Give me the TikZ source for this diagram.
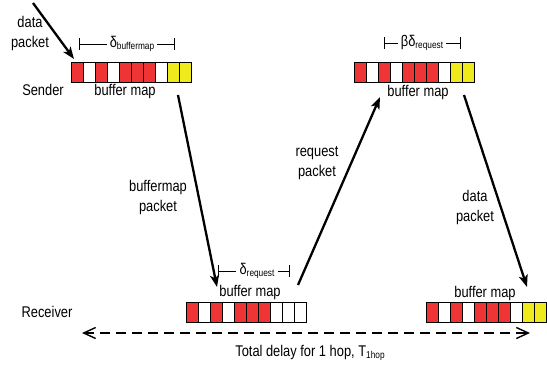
\documentclass[tikz,border=0pt]{standalone}
\usepackage{fontspec}
\setmainfont[FakeStretch=0.83]{Liberation Sans}
\usetikzlibrary{arrows.meta}
\definecolor{cellred}{HTML}{EE3434}
\definecolor{cellyel}{HTML}{EFEA1C}
% one buffer map: #1 name, #2 left x, #3 top y, #4 list of ten cell colours
\newcommand{\bufmap}[4]{%
  \foreach \c [count=\i from 0] in {#4}
    \node[cell, fill=\c] (#1\i) at (#2+12.05*\i, #3) {};}
\begin{document}
\begin{tikzpicture}[x=1pt,y=-1pt,
  cell/.style={draw=black, line width=0.7pt, minimum width=12.05pt,
    minimum height=20pt, inner sep=0pt, outer sep=0pt, anchor=north west},
  lbl/.style={font=\fontsize{15.5}{20}\selectfont, inner sep=0pt, align=center},
  sub/.style={font=\fontsize{15.5}{17}\selectfont, inner sep=3pt},
  packet/.style={line width=2.3pt, -{Stealth[length=12pt,width=9pt,inset=3pt]}},
  span/.style={line width=0.6pt},
  total/.style={line width=2.6pt, dash pattern=on 10pt off 6pt,
    {Straight Barb[length=12pt,width=11pt,line width=1.4pt]}-{Straight Barb[length=12pt,width=11pt,line width=1.4pt]}}
]
\useasboundingbox (0,0) rectangle (547,369);
\newcommand{\subtxt}[1]{\raisebox{-2.5pt}{\fontsize{10}{10}\selectfont #1}}

% buffer maps
\bufmap{s}{71}{62}{cellred,white,cellred,white,cellred,cellred,cellred,white,cellyel,cellyel}
\bufmap{t}{354}{62}{cellred,white,cellred,white,cellred,cellred,cellred,white,cellyel,cellyel}
\bufmap{r}{186}{302}{cellred,white,cellred,white,cellred,cellred,cellred,white,white,white}
\bufmap{q}{426}{302}{cellred,white,cellred,white,cellred,cellred,cellred,white,cellyel,cellyel}

% side labels
\node[lbl] (sender) at (43,90) {Sender};
\node[lbl] (receiver) at (47,312) {Receiver};

% buffer map captions
\node[lbl] (sbm) at (125,91) {buffer map};
\node[lbl] (tbm) at (418,92) {buffer map};
\node[lbl] (rbm) at (250,292) {buffer map};
\node[lbl] (qbm) at (485,293) {buffer map};

% interval markers
\node[sub] (dbm) at (132,44) {δ\subtxt{buffermap}};
\coordinate (dbmL) at (79,44); \coordinate (dbmR) at (174,44);
\draw[span] (dbmL) -- (dbm.west) (dbm.east) -- (dbmR);
\draw[span] ([yshift=-6pt]dbmL) -- ([yshift=6pt]dbmL);
\draw[span] ([yshift=-6pt]dbmR) -- ([yshift=6pt]dbmR);

\node[sub] (bdr) at (422,43) {βδ\subtxt{request}};
\coordinate (bdrL) at (384,43); \coordinate (bdrR) at (460,43);
\draw[span] (bdrL) -- (bdr.west) (bdr.east) -- (bdrR);
\draw[span] ([yshift=-6pt]bdrL) -- ([yshift=6pt]bdrL);
\draw[span] ([yshift=-6pt]bdrR) -- ([yshift=6pt]bdrR);

\node[sub] (dr) at (257,271) {δ\subtxt{request}};
\coordinate (drL) at (218,271); \coordinate (drR) at (289,271);
\draw[span] (drL) -- (dr.west) (dr.east) -- (drR);
\draw[span] ([yshift=-6pt]drL) -- ([yshift=6pt]drL);
\draw[span] ([yshift=-6pt]drR) -- ([yshift=6pt]drR);

% packets
\coordinate (inA) at (33,3);   \coordinate (inB) at (74,59);
\coordinate (bmA) at (178,95); \coordinate (bmB) at (217,287);
\coordinate (rqA) at (298,285);\coordinate (rqB) at (380,97);
\coordinate (dpA) at (464,95); \coordinate (dpB) at (527,287);
\draw[packet] (inA) -- (inB);
\draw[packet] (bmA) -- (bmB);
\draw[packet] (rqA) -- (rqB);
\draw[packet] (dpA) -- (dpB);

\node[lbl] (inL) at (30,33) {data\\packet};
\node[lbl] (bmL) at (158,197) {buffermap\\packet};
\node[lbl] (rqL) at (317,163) {request\\packet};
\node[lbl] (dpL) at (475,207) {data\\packet};

% total delay
\coordinate (tL) at (82,333); \coordinate (tR) at (530,333);
\draw[total] (tL) -- (tR);
\node[lbl] (tot) at (310,353) {Total delay for 1 hop, T\subtxt{1hop}};
\end{tikzpicture}
\end{document}
